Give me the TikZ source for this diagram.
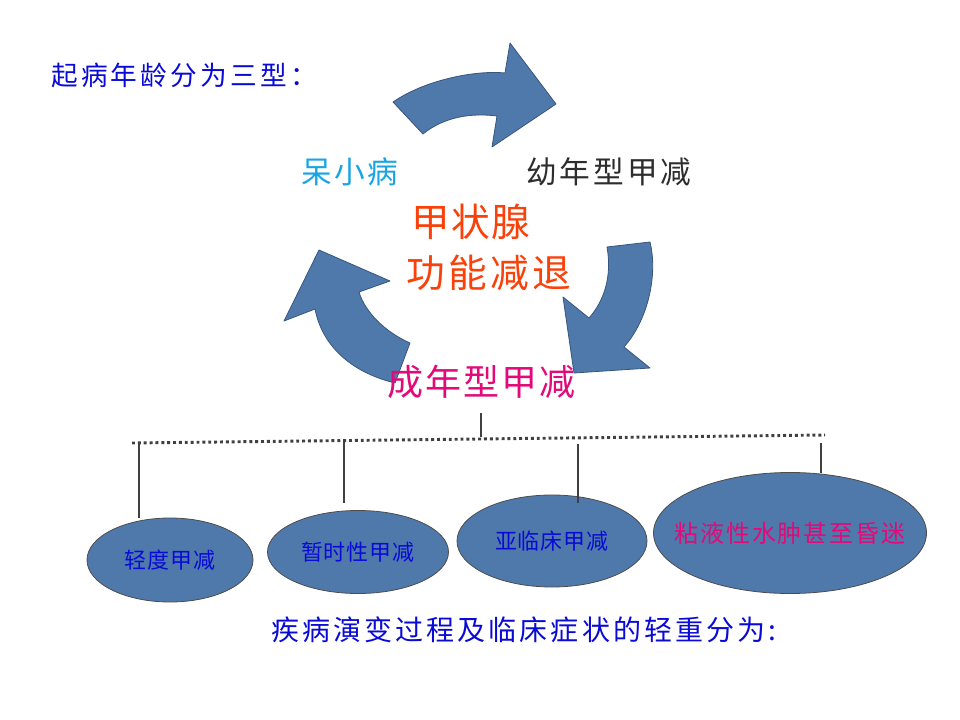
\documentclass[tikz,border=0pt]{standalone}
\usepackage{fontspec}
\usetikzlibrary{shapes.geometric}
\newfontfamily\cjk{Noto Sans CJK SC}
\definecolor{shapeblue}{RGB}{79,121,171}
\definecolor{shapeline}{RGB}{55,85,125}
\definecolor{titleblue}{RGB}{10,10,215}
\definecolor{cyanblue}{RGB}{25,165,225}
\definecolor{darktext}{RGB}{45,45,45}
\definecolor{thyrored}{RGB}{250,65,10}
\definecolor{adultpink}{RGB}{225,10,120}
\tikzset{
	cnode/.style={inner sep=0pt, anchor=west},
	stage/.style={ellipse, fill=shapeblue, draw=black!70, line width=0.6pt, inner sep=0pt},
	curvearrow/.style={fill=shapeblue, draw=shapeline, line width=0.6pt, line join=round},
	link/.style={draw=black!75, line width=0.8pt}
}
\begin{document}
\begin{tikzpicture}[x=0.75pt,y=-0.75pt]
					\useasboundingbox (0,0) rectangle (960,720);
					
					% the three curved arrows
					\path[curvearrow] (393,102) .. controls (425,80) and (475,70) .. (505,73) -- (510,43) -- (556,104) -- (492,147) -- (497,116) .. controls (465,112) and (440,120) .. (423,134) -- cycle;
					\path[curvearrow] (607,247) -- (650,242) .. controls (658,275) and (648,320) .. (624,347) -- (650,368) -- (574,373) -- (563,297) -- (589,318) .. controls (605,300) and (612,275) .. (607,247) -- cycle;
					\path[curvearrow] (319,250) -- (390,281) -- (359,292) .. controls (365,312) and (385,332) .. (410,343) -- (395,383) .. controls (350,372) and (322,345) .. (315,309) -- (284,321) -- cycle;
					
					% labels
					\node[cnode, text=titleblue, font=\cjk\fontsize{20pt}{22pt}\selectfont\addfontfeature{LetterSpace=12}] (title) at (51,75) {起病年龄分为三型：};
					\node[cnode, text=cyanblue, font=\cjk\fontsize{23pt}{26pt}\selectfont\addfontfeature{LetterSpace=7.5}] (cretin) at (301,172) {呆小病};
					\node[cnode, text=darktext, font=\cjk\fontsize{23pt}{26pt}\selectfont\addfontfeature{LetterSpace=9.5}] (juvenile) at (526,172) {幼年型甲减};
					\node[cnode, text=thyrored, font=\cjk\fontsize{29pt}{32pt}\selectfont\addfontfeature{LetterSpace=3.5}] (thyroA) at (411,222) {甲状腺};
					\node[cnode, text=thyrored, font=\cjk\fontsize{29pt}{32pt}\selectfont\addfontfeature{LetterSpace=8.5}] (thyroB) at (406,273) {功能减退};
					\node[cnode, text=adultpink, font=\cjk\fontsize{27pt}{30pt}\selectfont\addfontfeature{LetterSpace=5.5}] (adult) at (387,382) {成年型甲减};
					
					% severity stages
					\node[stage, minimum width=124.5pt, minimum height=63pt, text=titleblue, font=\cjk\fontsize{16.5pt}{18pt}\selectfont\addfontfeature{LetterSpace=4.5}] (mild) at (170,560) {轻度甲减};
					\node[stage, minimum width=135.75pt, minimum height=62.25pt, text=titleblue, font=\cjk\fontsize{16.5pt}{18pt}\selectfont\addfontfeature{LetterSpace=4.5}] (transient) at (358,552) {暂时性甲减};
					\node[stage, minimum width=142.5pt, minimum height=69pt, text=titleblue, font=\cjk\fontsize{16.5pt}{18pt}\selectfont\addfontfeature{LetterSpace=4.5}] (subclin) at (552,541) {亚临床甲减};
					\node[stage, inner xsep=-17pt, minimum width=204.75pt, minimum height=90.75pt, text=adultpink, font=\cjk\fontsize{18pt}{20pt}\selectfont\addfontfeature{LetterSpace=8}] (myxedema) at (790,533) {粘液性水肿甚至昏迷};
					
					\node[cnode, text=titleblue, font=\cjk\fontsize{21pt}{24pt}\selectfont\addfontfeature{LetterSpace=11}] (severity) at (271,630) {疾病演变过程及临床症状的轻重分为:};
					
					% tree connectors
					\coordinate (stemtop) at (481,413);
					\coordinate (stem) at (481,437);
					\coordinate (busL) at (132,443);
					\coordinate (busR) at (825,435);
					\coordinate (b1) at (139,443);
					\coordinate (b2) at (344,441);
					\coordinate (b3) at (578,444);
					\coordinate (b4) at (821,443);
					\coordinate (t1) at (139,518);
					\coordinate (t2) at (344,503);
					\coordinate (t3) at (578,503);
					\coordinate (t4) at (821,473);
					
					\draw[black!75, line width=2.2pt, dash pattern=on 2.2pt off 2.2pt] (busL) -- (busR);
					\draw[link] (stemtop) -- (stem);
					\foreach \i in {1,...,4}
						\draw[link] (b\i) -- (t\i);
				\end{tikzpicture}
\end{document}
